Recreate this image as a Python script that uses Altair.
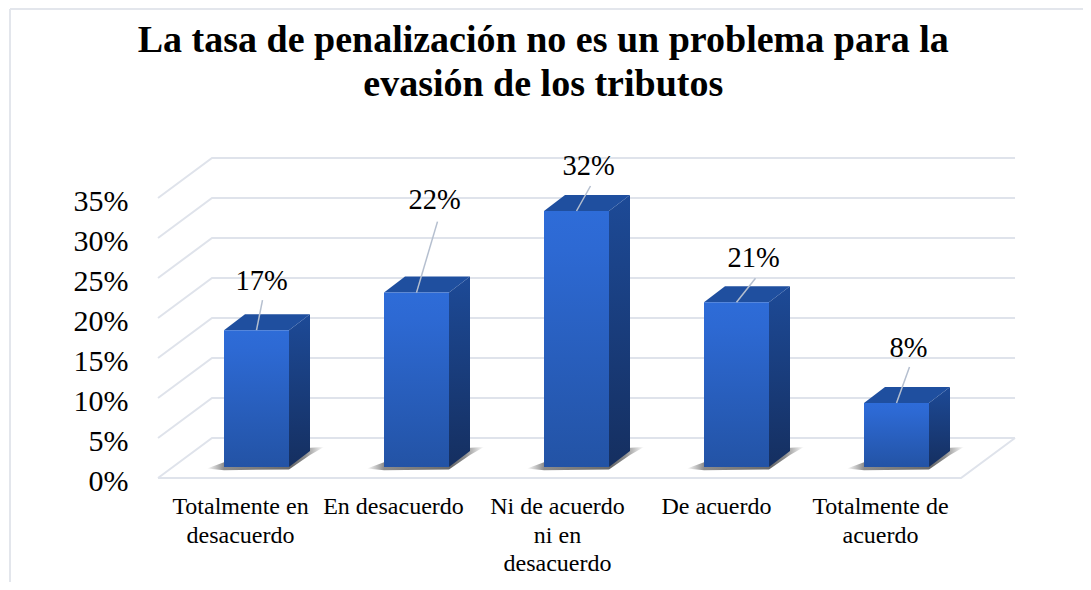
import altair as alt
import pandas as pd

# ---- chart values
title_lines = ["La tasa de penalización no es un problema para la", "evasión de los tributos"]
categories = ["Totalmente en\ndesacuerdo", "En desacuerdo", "Ni de acuerdo\nni en\ndesacuerdo", "De acuerdo", "Totalmente de\nacuerdo"]
values = [17.1, 21.8, 32.0, 20.6, 8.0]
labels = ["17%", "22%", "32%", "21%", "8%"]
y_ticks = [0, 5, 10, 15, 20, 25, 30, 35]

# ---- layout (pixels converted to scale units)
W, H = 1075, 574
PX_X, PX_Y = 160.0, 8.0          # pixels per category / per percent
dom_x = [-1.553125, 5.165625]
dom_y = [-13, 58.75]
HALF = 32.5 / PX_X
DX, DY = 21 / PX_X, 16 / PX_Y    # bar depth
BASE = 11 / PX_Y                 # bar foot above the front floor line
GL, GR, GD = (158 - 256.5) / PX_X, (961 - 256.5) / PX_X, 54 / PX_X
GDY = 40 / PX_Y
cat_dx = [-16, -23, -19, -20, -16]
lead_dx = [6, 21, 14, 19, 13]
lead_dy = [30, 71, 25, 24, 36]
text_dx = [5, 18, 12, 17, 12]
text_dy = [49, 93, 45, 44, 55]
SERIF = "Liberation Serif"

X = alt.Scale(domain=dom_x, nice=False, zero=False)
Y = alt.Scale(domain=dom_y, nice=False, zero=False)
x_q = lambda f: alt.X(f, type="quantitative", scale=X, axis=None)
y_q = lambda f: alt.Y(f, type="quantitative", scale=Y, axis=None, stack=None)


def grad(stops, x2=0, y2=1):
    return alt.Gradient(gradient="linear", x1=0, y1=0, x2=x2, y2=y2,
                        stops=[alt.GradientStop(offset=o, color=c) for o, c in stops])


# gridlines: side wall and back wall
grid_rows = []
for t in y_ticks:
    grid_rows += [dict(t=t, x=GL, y=t), dict(t=t, x=GL + GD, y=t + GDY), dict(t=t, x=GR + GD, y=t + GDY)]
floor_rows = [dict(t=-1, x=GL, y=0), dict(t=-1, x=GR, y=0), dict(t=-1, x=GR + GD, y=GDY)]
grid = alt.Chart(pd.DataFrame(grid_rows + floor_rows)).mark_line(color="#DFE3EB", strokeWidth=2).encode(
    x=x_q("x"),
    y=y_q("y"),
    detail="t:N",
    order="x:Q",
)

axis_df = pd.DataFrame({"y": y_ticks})
axis_layer = alt.Chart(axis_df).mark_point(opacity=0).encode(
    x=alt.value(0),
    y=alt.Y("y:Q", scale=Y, title=None,
            axis=alt.Axis(values=y_ticks, labelExpr="datum.value + '%'", offset=-125, labelPadding=5,
                          domain=False, ticks=False, grid=False, labelFont=SERIF, labelFontSize=30,
                          labelColor="#000000", labelOffset=3)),
)

side_rows, top_rows, shadow_rows = [], [], []
for i, v in enumerate(values):
    L, R = i - HALF, i + HALF
    b = BASE
    t = b + v
    side_rows += [dict(i=i, x=R, y=b, y2=t), dict(i=i, x=R + DX, y=b + DY, y2=t + DY)]
    top_rows += [dict(i=i, x=L, y=t, y2=t), dict(i=i, x=L + DX, y=t, y2=t + DY),
                 dict(i=i, x=R, y=t, y2=t + DY), dict(i=i, x=R + DX, y=t + DY, y2=t + DY)]
    shadow_rows += [dict(i=i, x=L - 17 / PX_X, y=b - 0.2, y2=b - 0.2),
                    dict(i=i, x=L, y=b - 0.4, y2=b + 0.6),
                    dict(i=i, x=R, y=b - 0.3, y2=b + 0.6),
                    dict(i=i, x=R + DX, y=b + DY - 0.5, y2=b + DY + 0.4),
                    dict(i=i, x=R + DX + 14 / PX_X, y=b + DY + 0.5, y2=b + DY + 0.5)]

area = lambda rows: alt.Chart(pd.DataFrame(rows))
enc_area = dict(x=x_q("x"), y=y_q("y"), y2="y2:Q", detail="i:N")

shadow = area(shadow_rows).mark_area(
    orient="vertical",
    color=grad([(0, "#FFFFFF"), (0.145, "#8C8C8C"), (0.72, "#6A6A6A"), (0.84, "#8F8F8F"), (1, "#FFFFFF")], x2=1, y2=0),
).encode(**enc_area)
side = area(side_rows).mark_area(
    orient="vertical", color=grad([(0, "#1D4A97"), (1, "#152F60")])
).encode(**enc_area)
top = area(top_rows).mark_area(orient="vertical", color="#1F4F9F").encode(**enc_area)

bars_df = pd.DataFrame({
    "l": [i - HALF for i in range(5)],
    "r": [i + HALF for i in range(5)],
    "b": [BASE] * 5,
    "t": [BASE + v for v in values],
})
front = alt.Chart(bars_df).mark_rect(
    color=grad([(0, "#2E6CD8"), (0.15, "#2D69D3"), (1, "#2353A5")]),
).encode(x=x_q("l"), x2="r:Q", y=y_q("b"), y2="t:Q")

lead_df = pd.DataFrame({
    "x": list(range(5)),
    "x2": [i + d / PX_X for i, d in enumerate(lead_dx)],
    "y": [BASE + v for v in values],
    "y2": [BASE + v + d / PX_Y for v, d in zip(values, lead_dy)],
})
leaders = alt.Chart(lead_df).mark_rule(color="#B5BFCF", strokeWidth=1.5).encode(
    x=x_q("x"), x2="x2:Q", y=y_q("y"), y2="y2:Q")

text_df = pd.DataFrame({
    "x": [i + d / PX_X for i, d in enumerate(text_dx)],
    "y": [BASE + v + d / PX_Y for v, d in zip(values, text_dy)],
    "label": labels,
})
value_text = alt.Chart(text_df).mark_text(font=SERIF, fontSize=28.5, color="#000000", baseline="middle").encode(
    x=x_q("x"), y=y_q("y"), text="label:N")

cat_df = pd.DataFrame({
    "x": [i + d / PX_X for i, d in enumerate(cat_dx)],
    "cat": categories,
})
cat_text = alt.Chart(cat_df).mark_text(
    font=SERIF, fontSize=24, color="#000000", lineBreak="\n", lineHeight=28.5, baseline="middle", align="center"
).encode(x=x_q("x"), y=alt.value(499), text="cat:N")

border_left = alt.Chart(pd.DataFrame({"a": [0]})).mark_rule(color="#E3E6EC", strokeWidth=2).encode(
    x=alt.value(2), y=alt.value(1), y2=alt.value(H))
border_top = alt.Chart(pd.DataFrame({"a": [0]})).mark_rule(color="#E3E6EC", strokeWidth=2).encode(
    x=alt.value(2), x2=alt.value(W), y=alt.value(1))

chart = alt.layer(
    border_left, border_top, axis_layer, grid, shadow, side, top, front, leaders, value_text, cat_text
).resolve_axis(y="independent").properties(
    width=W, height=H, padding=0,
    autosize=alt.AutoSizeParams(type="none"),
    title=alt.TitleParams(
        text=title_lines, anchor="start", align="center", orient="top", font=SERIF, fontSize=38, fontWeight="bold",
        color="#000000", lineHeight=44, baseline="top", dy=96, dx=538, offset=0,
    ),
).configure_view(stroke=None)

chart.save("out.html", embed_options={"renderer": "svg", "actions": False})
